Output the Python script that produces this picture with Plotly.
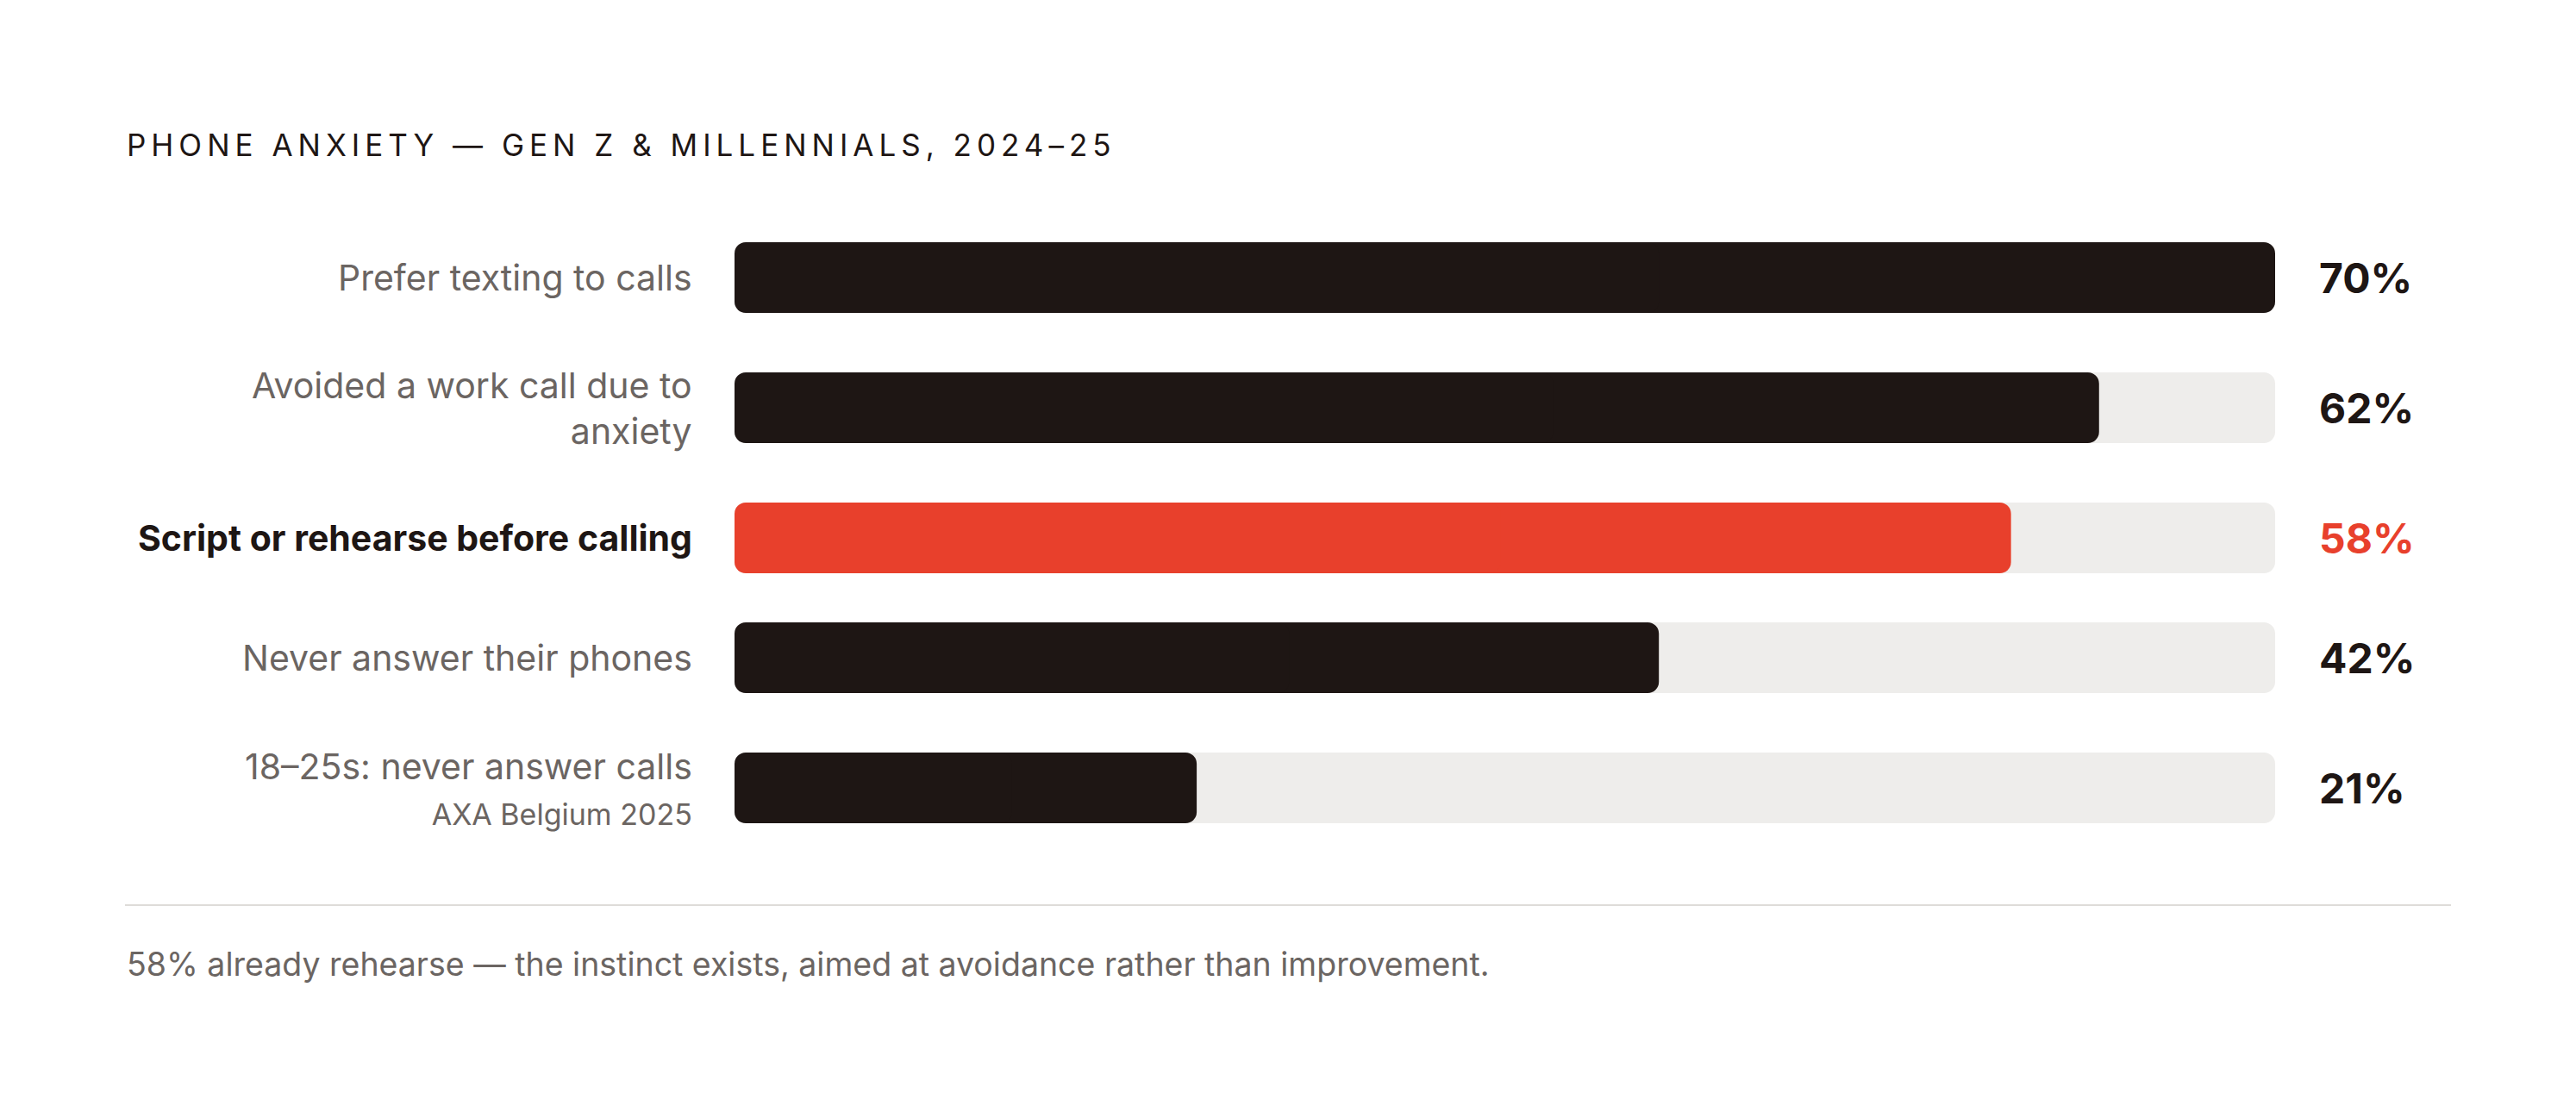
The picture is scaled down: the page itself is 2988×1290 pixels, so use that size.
import plotly.graph_objects as go

# ---- data ----
categories = [
    "Prefer texting to calls",
    "Avoided a work call due to<br>anxiety",
    "Script or rehearse before calling",
    "Never answer their phones",
    "18–25s: never answer calls",
]
sublabels = ["", "", "", "", "AXA Belgium 2025"]
values = [70, 62, 58, 42, 21]
highlight = [False, False, True, False, False]
value_labels = ["70%", "62%", "58%", "42%", "21%"]
track_max = 70

title_text = "PHONE ANXIETY — GEN Z &amp; MILLENNIALS, 2024–25"
footnote = "58% already rehearse — the instinct exists, aimed at avoidance rather than improvement."

# ---- styles ----
OFF = 8  # page body margin
W, H = 2988 - OFF, 1290 - OFF
ML, MR, MT, MB = 852 - OFF, 349, 222 - OFF, 277
PLOT_W = W - ML - MR
PLOT_H = H - MT - MB
DARK = "#1e1614"
RED = "#e8402c"
TRACK = "#eeedeb"
GREY = "#6b6562"
FONT = "Inter"
RADIUS = 13
BAR_W = 82
TOP_PAD = 100

# row positions (1 axis unit = 1 px) derived from number of label lines
lines = [c.count("<br>") + 1 + (1 if s else 0) for c, s in zip(categories, sublabels)]
base_pitch, extra = 139, 12
pos = [0]
for i in range(1, len(lines)):
    pos.append(pos[-1] + base_pitch + extra * ((lines[i - 1] - 1) + (lines[i] - 1)))

def px(p):
    return (p - OFF - ML) / PLOT_W

def py(p):
    return (H - MB - (p - OFF)) / PLOT_H

bar_colors = [RED if h else DARK for h in highlight]

fig = go.Figure()

def add_rounded(vals, colors):
    # two overlapping halves so both ends get rounded corners
    fig.add_trace(go.Bar(
        x=[v * 0.6 for v in vals], base=[v * 0.4 for v in vals], y=pos, orientation="h",
        width=BAR_W, marker=dict(color=colors, cornerradius=RADIUS, line=dict(width=0)),
        hoverinfo="skip", showlegend=False,
    ))
    fig.add_trace(go.Bar(
        x=[-v * 0.6 for v in vals], base=[v * 0.6 for v in vals], y=pos, orientation="h",
        width=BAR_W, marker=dict(color=colors, cornerradius=RADIUS, line=dict(width=0)),
        hoverinfo="skip", showlegend=False,
    ))

add_rounded([track_max] * len(values), TRACK)
add_rounded(values, bar_colors)

annotations = []
for c, s, p, h, vl in zip(categories, sublabels, pos, highlight, value_labels):
    txt = f"<b>{c}</b>" if h else c
    if s:
        txt += f"<br><span style='font-size:34px'>{s}</span>"
    annotations.append(dict(
        x=px(805), xref="paper", y=p, yref="y", xanchor="right", yanchor="middle",
        text=txt, showarrow=False, align="right",
        font=dict(family=FONT, size=41, color=DARK if h else GREY),
    ))
    annotations.append(dict(
        x=px(2688), xref="paper", y=p, yref="y", xanchor="left", yanchor="middle",
        text=f"<b>{vl}</b>", showarrow=False,
        font=dict(family=FONT, size=48, color=RED if h else DARK),
    ))

annotations.append(dict(
    x=px(145), xref="paper", y=py(168), yref="paper", xanchor="left", yanchor="middle",
    text=f"<span style='letter-spacing:6px'>{title_text}</span>", showarrow=False,
    font=dict(family=FONT, size=35, color=DARK),
))
annotations.append(dict(
    x=px(145), xref="paper", y=py(1118), yref="paper", xanchor="left", yanchor="middle",
    text=footnote, showarrow=False,
    font=dict(family=FONT, size=37.5, color=GREY),
))

fig.update_layout(
    width=W, height=H,
    margin=dict(l=ML, r=MR, t=MT, b=MB, pad=0),
    paper_bgcolor="white", plot_bgcolor="white",
    barmode="overlay",
    xaxis=dict(range=[0, track_max], visible=False, fixedrange=True),
    yaxis=dict(range=[PLOT_H - TOP_PAD, -TOP_PAD], visible=False, fixedrange=True),
    annotations=annotations,
    shapes=[dict(type="line", xref="paper", yref="paper",
                 x0=px(145), x1=px(2843), y0=py(1050), y1=py(1050),
                 line=dict(color="#dedcd9", width=2))],
    hovermode=False,
)

fig.write_html("out.html", config={"displayModeBar": False})
